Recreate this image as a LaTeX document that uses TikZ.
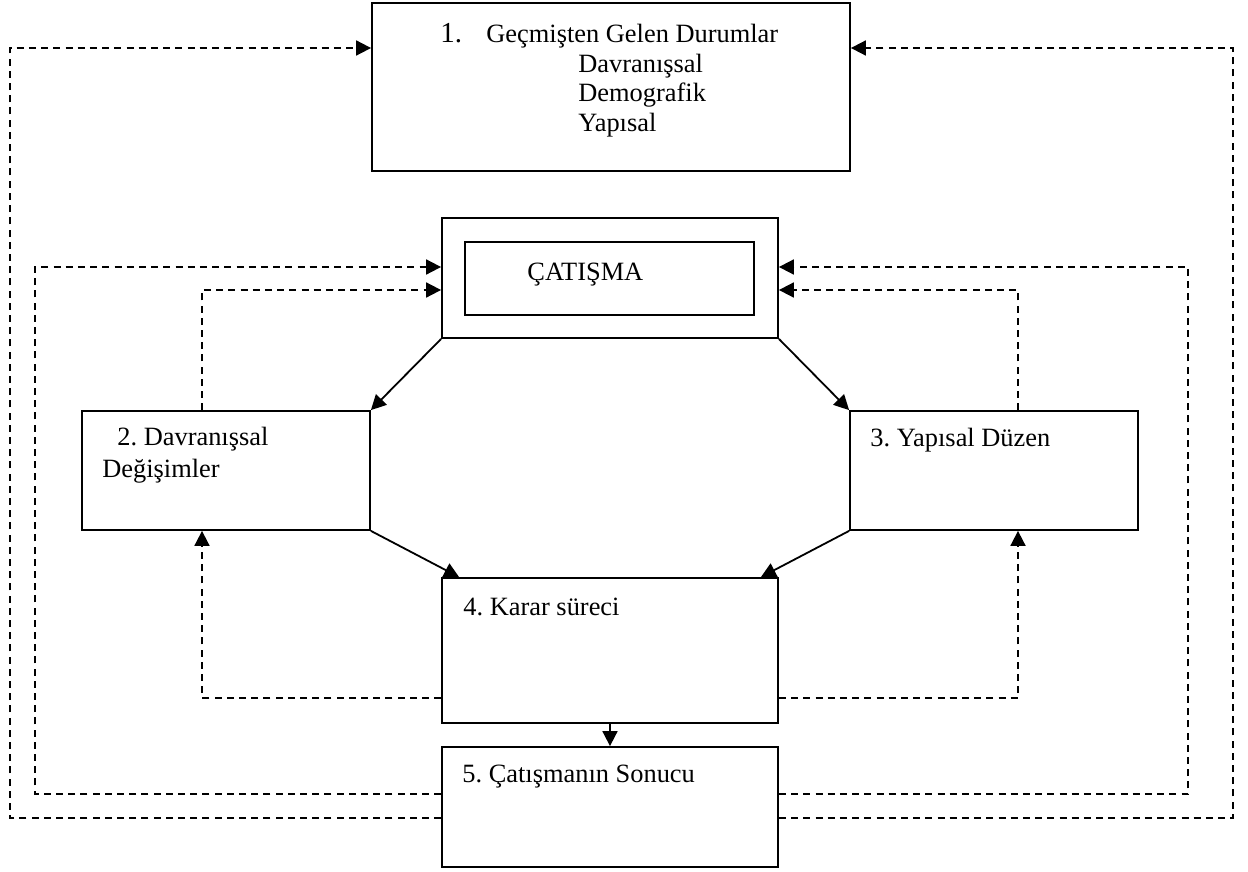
\documentclass[tikz,border=0pt]{standalone}
\usepackage{fontspec}
\setmainfont{Liberation Serif}
\usepackage{tikz}
\usetikzlibrary{arrows.meta,calc}
\frenchspacing

\begin{document}
\begin{tikzpicture}
[x=0.5pt,y=-0.5pt,>={Triangle[length=7.5pt,width=7.5pt]},
box/.style={draw,line width=0.9pt,inner sep=0pt},
txt/.style={anchor=base west,inner sep=0pt,font=\fontsize{13.2}{16}\selectfont},
dline/.style={line width=0.9pt,dash pattern=on 3.5pt off 2.6pt},
sline/.style={line width=0.9pt},]
\useasboundingbox (0,0) rectangle (1248,872);

\node (G) at (611,87)[box,minimum width=239pt,minimum height=84pt]{};
\node (C) at (610,278)[box,minimum width=168pt,minimum height=60pt]{};
\node (Ci) at (609.5,278.5)[box,line width=0.7pt,minimum width=144.5pt,minimum height=36.5pt]{};
\node (D) at (226,470.5)[box,minimum width=144pt,minimum height=59.5pt]{};
\node (Y) at (994,470.5)[box,minimum width=144pt,minimum height=59.5pt]{};
\node (K) at (610,650.5)[box,minimum width=168pt,minimum height=72.5pt]{};
\node (S) at (610,807)[box,minimum width=168pt,minimum height=60pt]{};

\node (g0) at (440,43)[txt,font=\fontsize{14.5}{16}\selectfont]{1.};
\node (g1) at (486,43)[txt]{Geçmişten Gelen Durumlar};
\node (g2) at (578,73)[txt]{Davranışsal};
\node (g3) at (578,102)[txt]{Demografik};
\node (g4) at (578,132)[txt]{Yapısal};
\node (c1) at (527,280)[txt]{ÇATIŞMA};
\node (d1) at (117,445)[txt]{2. Davranışsal};
\node (d2) at (102,477)[txt]{Değişimler};
\node (y1) at (870,446)[txt]{3. Yapısal Düzen};
\node (k1) at (463,615)[txt]{4. Karar süreci};
\node (s1) at (462,782)[txt]{5. Çatışmanın Sonucu};

%outer feedback loops
\coordinate (a1) at (10,818);
\coordinate (a2) at (10,48);
\coordinate (a3) at (1233,818);
\coordinate (a4) at (1233,48);
\draw[dline,->] (S.west |- a1) -- (a1) -- (a2) -- (G.west |- a2);
\draw[dline,->] (S.east |- a3) -- (a3) -- (a4) -- (G.east |- a4);

\coordinate (b1) at (35,794);
\coordinate (b2) at (35,267);
\coordinate (b3) at (1188,794);
\coordinate (b4) at (1188,267);
\draw[dline,->] (S.west |- b1) -- (b1) -- (b2) -- (C.west |- b2);
\draw[dline,->] (S.east |- b3) -- (b3) -- (b4) -- (C.east |- b4);

\coordinate (e1) at (202,290);
\coordinate (e2) at (1018,290);
\draw[dline,->] (D.north -| e1) -- (e1) -- (C.west |- e1);
\draw[dline,->] (Y.north -| e2) -- (e2) -- (C.east |- e2);

\coordinate (f1) at (202,698);
\coordinate (f2) at (1018,698);
\draw[dline,->] (K.west |- f1) -- (f1) -- (D.south -| f1);
\draw[dline,->] (K.east |- f2) -- (f2) -- (Y.south -| f2);

\draw[sline,->] (C.south west) -- (D.north east);
\draw[sline,->] (C.south east) -- (Y.north west);
\draw[sline,->] (D.south east) -- ($(K.north west)+(18,0)$);
\draw[sline,->] (Y.south west) -- ($(K.north east)+(-18,0)$);
\draw[sline,->] (K.south) -- (S.north);

\end{tikzpicture}
\end{document}
